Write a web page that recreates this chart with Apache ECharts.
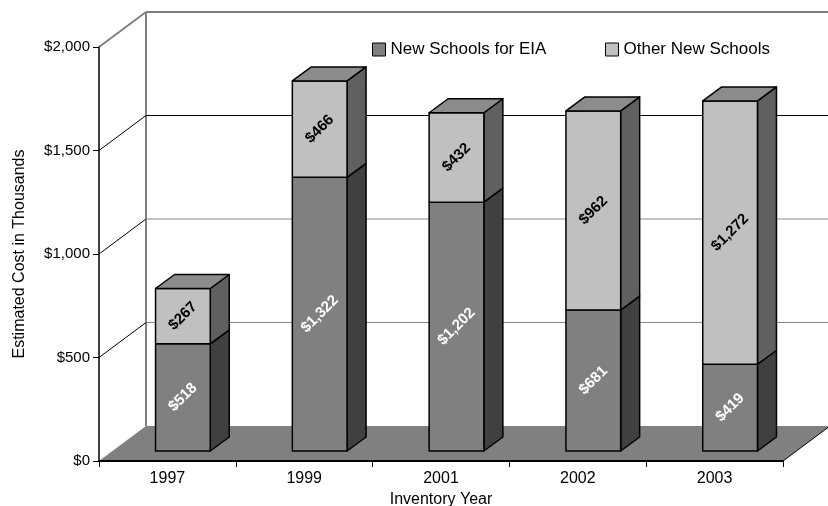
<!DOCTYPE html>
<html>
<head>
<meta charset="utf-8">
<script src="https://cdn.jsdelivr.net/npm/echarts@6/dist/echarts.min.js"></script>
<style>
  html, body { margin: 0; padding: 0; background: #fff; }
  #chart { width: 828px; height: 506px; }
</style>
</head>
<body>
<div id="chart"></div>
<script>
// Estimated cost (thousands of dollars) by inventory year
const categories = ['1997', '1999', '2001', '2002', '2003'];
const eiaCost = [518, 1322, 1202, 681, 419];
const otherCost = [267, 466, 432, 962, 1272];
const yTicks = [0, 500, 1000, 1500, 2000];

const FONT = 'Liberation Sans, Arial, Helvetica, sans-serif';

// Pseudo-3D depth of the back wall and of the bars
const WALL_DX = 47, WALL_DY = -35;
const BAR_OX = 15.5, BAR_OY = -10;
const BAR_DX = 19, BAR_DY = -14;

const money = v => '$' + Math.round(v).toLocaleString('en-US');

function renderWall(params, api) {
  const cs = params.coordSys;
  const v = api.value(0);
  const y = api.coord([0, v])[1];
  const x0 = cs.x, x1 = cs.x + cs.width;
  const yTop = cs.y, yBot = cs.y + cs.height;
  const children = [];
  if (v === yTicks[0]) {
    // floor
    children.push({
      type: 'polygon',
      shape: { points: [[x0, y], [x1, y], [x1 + WALL_DX, y + WALL_DY], [x0 + WALL_DX, y + WALL_DY]] },
      style: { fill: '#808080', stroke: null }
    });
    children.push({
      type: 'line',
      shape: { x1: x1, y1: y, x2: x1 + WALL_DX, y2: y + WALL_DY },
      style: { stroke: '#000', lineWidth: 1 }
    });
    // left edge of the back wall
    children.push({
      type: 'line',
      shape: { x1: x0 + WALL_DX, y1: yTop + WALL_DY, x2: x0 + WALL_DX, y2: yBot + WALL_DY },
      style: { stroke: '#808080', lineWidth: 2 }
    });
  } else if (v === yTicks[yTicks.length - 1]) {
    // top edges of the walls
    children.push({
      type: 'line',
      shape: { x1: x0, y1: y, x2: x0 + WALL_DX, y2: y + WALL_DY },
      style: { stroke: '#808080', lineWidth: 2 }
    });
    children.push({
      type: 'line',
      shape: { x1: x0 + WALL_DX, y1: y + WALL_DY, x2: x1 + WALL_DX + 10, y2: y + WALL_DY },
      style: { stroke: '#808080', lineWidth: 2 }
    });
  } else {
    // gridline: diagonal on the side wall, horizontal on the back wall
    children.push({
      type: 'line',
      shape: { x1: x0, y1: y, x2: x0 + WALL_DX, y2: y + WALL_DY },
      style: { stroke: '#000', lineWidth: 1 }
    });
    children.push({
      type: 'line',
      shape: { x1: x0 + WALL_DX, y1: y + WALL_DY, x2: x1 + WALL_DX + 10, y2: y + WALL_DY },
      style: { stroke: v === 1500 ? '#000' : '#888', lineWidth: 1 }
    });
  }
  return { type: 'group', children: children };
}

function makeSegmentRenderer(frontColor, sideColor, topColor, labelColor, drawTop) {
  return function (params, api) {
    const i = api.value(0), lo = api.value(1), hi = api.value(2), val = api.value(3);
    const pLo = api.coord([i, lo]);
    const pHi = api.coord([i, hi]);
    const w = api.size([1, 0])[0] * 0.4;
    const xl = pLo[0] - w / 2 + BAR_OX, xr = xl + w;
    const yb = pLo[1] + BAR_OY, yt = pHi[1] + BAR_OY;
    const edge = { stroke: '#000', lineWidth: 1.5, lineJoin: 'round' };
    const children = [
      {
        type: 'polygon',
        shape: { points: [[xr, yt], [xr + BAR_DX, yt + BAR_DY], [xr + BAR_DX, yb + BAR_DY], [xr, yb]] },
        style: Object.assign({ fill: sideColor }, edge)
      },
      {
        type: 'rect',
        shape: { x: xl, y: yt, width: w, height: yb - yt },
        style: Object.assign({ fill: frontColor }, edge)
      }
    ];
    if (drawTop) {
      children.push({
        type: 'polygon',
        shape: { points: [[xl, yt], [xl + BAR_DX, yt + BAR_DY], [xr + BAR_DX, yt + BAR_DY], [xr, yt]] },
        style: Object.assign({ fill: topColor }, edge)
      });
    }
    children.push({
      type: 'text',
      x: (xl + xr) / 2,
      y: (yt + yb) / 2,
      rotation: Math.PI / 4,
      style: {
        text: money(val),
        fill: labelColor,
        font: 'bold 15px ' + FONT,
        align: 'center',
        verticalAlign: 'middle'
      }
    });
    return { type: 'group', children: children };
  };
}

const eiaData = categories.map((c, i) => [i, 0, eiaCost[i], eiaCost[i]]);
const otherData = categories.map((c, i) => [i, eiaCost[i], eiaCost[i] + otherCost[i], otherCost[i]]);

const chart = echarts.init(document.getElementById('chart'), null, { renderer: 'canvas' });
chart.setOption({
  animation: false,
  backgroundColor: '#fff',
  textStyle: { fontFamily: FONT },
  grid: { left: 99, right: 45, top: 47, bottom: 45, containLabel: false, outerBoundsMode: 'none' },
  legend: [
    {
      left: 367, top: 36, icon: 'rect', itemWidth: 13, itemHeight: 13, itemGap: 0,
      textStyle: { fontSize: 17, color: '#000', fontFamily: FONT },
      data: [{ name: 'New Schools for EIA', itemStyle: { color: '#808080', borderColor: '#000', borderWidth: 1 } }]
    },
    {
      left: 600, top: 36, icon: 'rect', itemWidth: 13, itemHeight: 13, itemGap: 0,
      textStyle: { fontSize: 17, color: '#000', fontFamily: FONT },
      data: [{ name: 'Other New Schools', itemStyle: { color: '#c0c0c0', borderColor: '#000', borderWidth: 1 } }]
    }
  ],
  xAxis: {
    type: 'category',
    data: categories,
    z: 5,
    boundaryGap: true,
    name: 'Inventory Year',
    nameLocation: 'middle',
    nameGap: 31,
    nameTextStyle: { fontSize: 16, color: '#000', fontFamily: FONT },
    axisLine: { lineStyle: { color: '#000', width: 2 } },
    axisTick: { show: true, length: 6, lineStyle: { color: '#000', width: 1 } },
    axisLabel: { fontSize: 16, color: '#000', margin: 10, fontFamily: FONT },
    splitLine: { show: false }
  },
  yAxis: {
    type: 'value',
    min: 0,
    max: 2000,
    interval: 500,
    z: 5,
    name: 'Estimated Cost in Thousands',
    nameLocation: 'middle',
    nameGap: 71,
    nameTextStyle: { fontSize: 16, color: '#000', fontFamily: FONT },
    axisLine: { show: true, lineStyle: { color: '#000', width: 1.5 } },
    axisTick: { show: true, length: 6, lineStyle: { color: '#000', width: 1 } },
    axisLabel: { fontSize: 15, color: '#000', margin: 9, fontFamily: FONT, formatter: v => money(v) },
    splitLine: { show: false }
  },
  series: [
    {
      type: 'custom',
      name: 'wall',
      z: 1,
      silent: true,
      renderItem: renderWall,
      data: yTicks.map(v => [v]),
      encode: { y: 0 }
    },
    {
      type: 'custom',
      name: 'New Schools for EIA',
      z: 2,
      itemStyle: { color: '#808080' },
      renderItem: makeSegmentRenderer('#808080', '#404040', '#8c8c8c', '#fff', false),
      data: eiaData,
      encode: { x: 0, y: [1, 2] }
    },
    {
      type: 'custom',
      name: 'Other New Schools',
      z: 3,
      itemStyle: { color: '#c0c0c0' },
      renderItem: makeSegmentRenderer('#c0c0c0', '#606060', '#8c8c8c', '#000', true),
      data: otherData,
      encode: { x: 0, y: [1, 2] }
    }
  ]
});
</script>
</body>
</html>
